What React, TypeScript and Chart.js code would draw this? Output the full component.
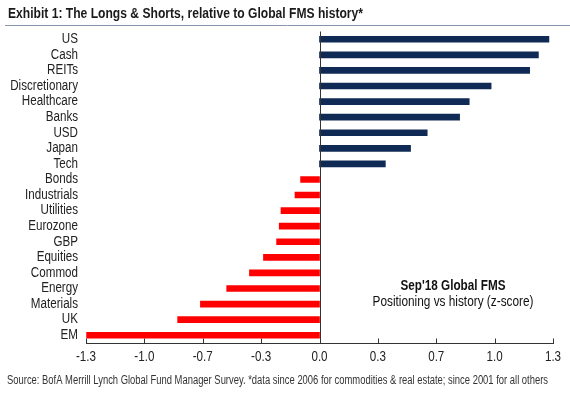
import React, { useEffect, useRef } from "react";
import { Chart, registerables } from "chart.js";

Chart.register(...registerables);

const categories = [
  "US", "Cash", "REITs", "Discretionary", "Healthcare", "Banks", "USD", "Japan", "Tech",
  "Bonds", "Industrials", "Utilities", "Eurozone", "GBP", "Equities", "Commod", "Energy",
  "Materials", "UK", "EM",
];
const zScores = [
  1.31, 1.25, 1.20, 0.98, 0.855, 0.80, 0.615, 0.52, 0.376,
  -0.108, -0.14, -0.22, -0.23, -0.245, -0.32, -0.40, -0.53,
  -0.68, -0.81, -1.33,
];
const tickValues = [-4 / 3, -1, -2 / 3, -1 / 3, 0, 1 / 3, 2 / 3, 1, 4 / 3];
const tickLabels = ["-1.3", "-1.0", "-0.7", "-0.3", "0.0", "0.3", "0.7", "1.0", "1.3"];

const titleText = "Exhibit 1: The Longs & Shorts, relative to Global FMS history*";
const sourceText =
  "Source: BofA Merrill Lynch Global Fund Manager Survey. *data since 2006 for commodities & real estate; since 2001 for all others";
const noteTitle = "Sep'18 Global FMS";
const noteSub = "Positioning vs history (z-score)";

const NAVY = "#102A56";
const RED = "#FF0000";
const FONT = "'Liberation Sans', Arial, sans-serif";
const NARROW = 0.83;

function drawText(
  ctx: CanvasRenderingContext2D,
  text: string,
  x: number,
  y: number,
  align: CanvasTextAlign,
  font: string,
  color: string,
  sx: number,
  fitWidth?: number
) {
  ctx.save();
  ctx.font = font;
  ctx.fillStyle = color;
  ctx.textAlign = align;
  ctx.textBaseline = "middle";
  let s = sx;
  if (fitWidth) s = fitWidth / ctx.measureText(text).width;
  ctx.translate(x, y);
  ctx.scale(s, 1);
  ctx.fillText(text, 0, 0);
  ctx.restore();
}

const decorPlugin = {
  id: "decor",
  afterDraw(chart: any) {
    const ctx = chart.ctx as CanvasRenderingContext2D;
    const xs = chart.scales.x;
    const ys = chart.scales.y;
    const area = chart.chartArea;
    ctx.save();
    // zero line
    const x0 = Math.round(xs.getPixelForValue(0)) + 0.5;
    ctx.strokeStyle = "#333";
    ctx.lineWidth = 1;
    ctx.beginPath();
    ctx.moveTo(x0, area.top);
    ctx.lineTo(x0, area.bottom);
    ctx.stroke();
    // tick marks (upward)
    const yb = Math.round(area.bottom) + 0.5;
    ctx.beginPath();
    for (const v of tickValues) {
      const px = Math.round(xs.getPixelForValue(v)) + 0.5;
      ctx.moveTo(px, yb);
      ctx.lineTo(px, yb - 5);
    }
    ctx.stroke();
    ctx.restore();

    // category labels
    categories.forEach((c, i) => {
      drawText(ctx, c, area.left - 8, ys.getPixelForValue(i), "right", `14px ${FONT}`, "#222", NARROW);
    });
    // x tick labels
    tickValues.forEach((v, i) => {
      drawText(ctx, tickLabels[i], xs.getPixelForValue(v), area.bottom + 14.5, "center", `14px ${FONT}`, "#222", NARROW);
    });
    // title
    drawText(ctx, titleText, 8, 13.5, "left", `bold 15px ${FONT}`, "#1a1a1a", 1, 355);
    ctx.save();
    ctx.strokeStyle = "#8796AC";
    ctx.lineWidth = 1;
    ctx.beginPath();
    ctx.moveTo(5, 25.5);
    ctx.lineTo(570, 25.5);
    ctx.stroke();
    ctx.restore();
    // annotation
    drawText(ctx, noteTitle, 453, 286, "center", `bold 14px ${FONT}`, "#111", 1, 105);
    drawText(ctx, noteSub, 453, 302, "center", `14px ${FONT}`, "#111", 1, 161);
    // source
    drawText(ctx, sourceText, 7, 381, "left", `12.5px ${FONT}`, "#333", 1, 541);
  },
};

export default function App() {
  const ref = useRef<HTMLCanvasElement>(null);
  useEffect(() => {
    document.body.style.margin = "0";
    const chart = new Chart(ref.current as HTMLCanvasElement, {
      type: "bar",
      data: {
        labels: categories,
        datasets: [
          {
            data: zScores,
            backgroundColor: zScores.map((v) => (v >= 0 ? NAVY : RED)),
            barThickness: 6,
          },
        ],
      },
      options: {
        indexAxis: "y",
        responsive: false,
        animation: false,
        layout: { padding: { top: 31.5, bottom: 31, left: 0, right: 17 } },
        plugins: { legend: { display: false }, tooltip: { enabled: false }, title: { display: false } },
        scales: {
          x: {
            min: -4 / 3,
            max: 4 / 3,
            afterBuildTicks: (s: any) => {
              s.ticks = tickValues.map((v) => ({ value: v }));
            },
            afterFit: (s: any) => {
              s.height = 24;
            },
            grid: { display: false, drawTicks: false },
            border: { display: true, color: "#333", width: 1 },
            ticks: { display: false },
          },
          y: {
            afterFit: (s: any) => {
              s.width = 86;
            },
            grid: { display: false, drawTicks: false },
            border: { display: false },
            ticks: { display: false },
          },
        },
      },
      plugins: [decorPlugin],
    });
    return () => chart.destroy();
  }, []);
  return (
    <div style={{ width: 570, height: 398, background: "#fff" }}>
      <canvas ref={ref} width={570} height={398} />
    </div>
  );
}
